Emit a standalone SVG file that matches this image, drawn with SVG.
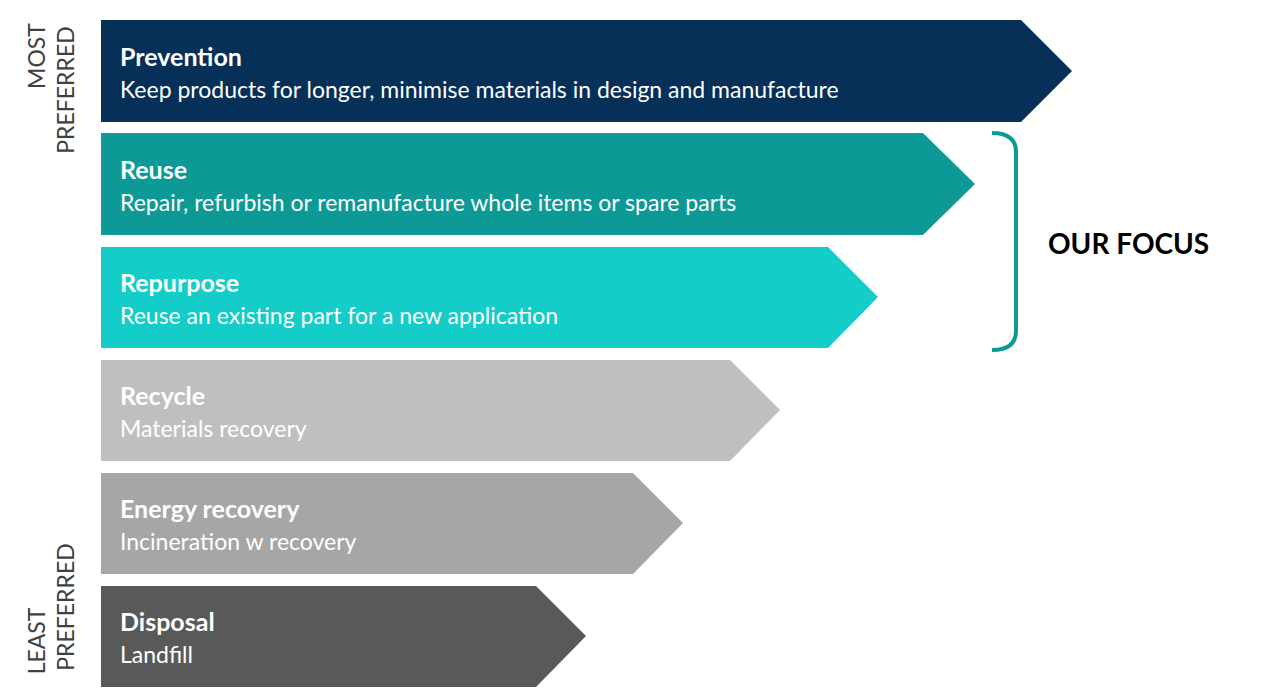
<svg xmlns="http://www.w3.org/2000/svg" width="1280" height="693" viewBox="0 0 1280 693">
<style>
.t{font-family:Lato,"Liberation Sans",sans-serif;font-weight:bold;font-size:25px;fill:#fff}
.s{font-family:Lato,"Liberation Sans",sans-serif;font-size:23px;fill:#fff}
.side{font-family:Lato,"Liberation Sans",sans-serif;font-size:23px;fill:#404040;text-anchor:middle}
</style>
<rect width="1280" height="693" fill="#fff"/>
<g id="prevention"><polygon points="101,20 1021,20 1072,71 1021,122 101,122" fill="#063057"/><text class="t" x="120" y="66">Prevention</text><text class="s" x="120" y="98">Keep products for longer, minimise materials in design and manufacture</text></g>
<g id="reuse"><polygon points="101,133 923,133 975,184 923,235 101,235" fill="#0d9a96"/><text class="t" x="120" y="179">Reuse</text><text class="s" x="120" y="211">Repair, refurbish or remanufacture whole items or spare parts</text></g>
<g id="repurpose"><polygon points="101,247 828,247 878,297 828,348 101,348" fill="#14ccc8"/><text class="t" x="120" y="292">Repurpose</text><text class="s" x="120" y="324">Reuse an existing part for a new application</text></g>
<g id="recycle"><polygon points="101,360 730,360 780,410 730,461 101,461" fill="#bfbfbf"/><text class="t" x="120" y="405">Recycle</text><text class="s" x="120" y="437">Materials recovery</text></g>
<g id="energy"><polygon points="101,473 633,473 683,523 633,574 101,574" fill="#a6a6a6"/><text class="t" x="120" y="518">Energy recovery</text><text class="s" x="120" y="550">Incineration w recovery</text></g>
<g id="disposal"><polygon points="101,586 536,586 586,636 536,687 101,687" fill="#595959"/><text class="t" x="120" y="631">Disposal</text><text class="s" x="120" y="663">Landfill</text></g>
<g id="connectors"><path d="M992,133 Q1016,133 1016,152 L1016,331 Q1016,350 992,350" fill="none" stroke="#0d9a96" stroke-width="4"/></g>
<g id="focus"><text x="1048" y="254" font-family="Lato,'Liberation Sans',sans-serif" font-weight="bold" font-size="28" fill="#000">OUR FOCUS</text></g>
<g id="labels">
<text class="side" transform="translate(45,56) rotate(-90)">MOST</text>
<text class="side" transform="translate(74,90) rotate(-90)">PREFERRED</text>
<text class="side" transform="translate(45,641) rotate(-90)">LEAST</text>
<text class="side" transform="translate(74,607) rotate(-90)">PREFERRED</text>
</g>
</svg>
